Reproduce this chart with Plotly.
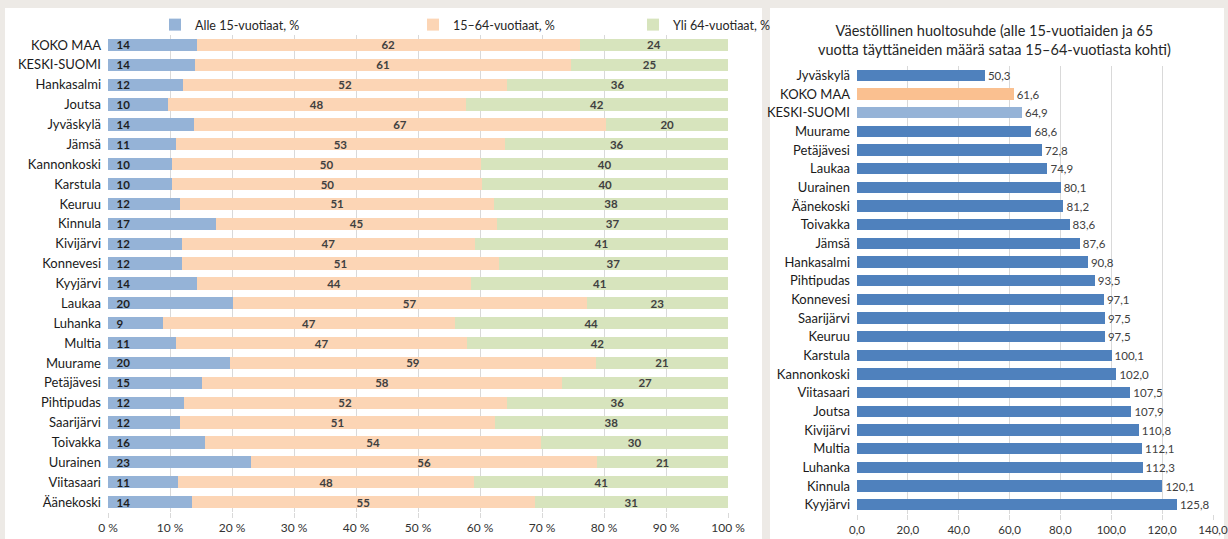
import plotly.graph_objects as go

# ---------------- data: left chart (age structure, %) ----------------
areas = ["KOKO MAA", "KESKI-SUOMI", "Hankasalmi", "Joutsa", "Jyväskylä", "Jämsä",
         "Kannonkoski", "Karstula", "Keuruu", "Kinnula", "Kivijärvi", "Konnevesi",
         "Kyyjärvi", "Laukaa", "Luhanka", "Multia", "Muurame", "Petäjävesi",
         "Pihtipudas", "Saarijärvi", "Toivakka", "Uurainen", "Viitasaari", "Äänekoski"]
under15 = [14.3, 14.0, 12.1, 9.6, 13.8, 10.9, 10.3, 10.4, 11.6, 17.4, 11.9, 12.0,
           14.3, 20.1, 8.9, 11.0, 19.7, 15.1, 12.2, 11.6, 15.6, 23.1, 11.3, 13.6]
age15_64 = [61.8, 60.7, 52.3, 48.1, 66.6, 53.2, 49.9, 50.0, 50.7, 45.4, 47.3, 51.0,
            44.3, 57.1, 47.0, 46.9, 59.0, 58.2, 52.1, 50.8, 54.3, 55.8, 47.8, 55.2]
over64 = [23.9, 25.3, 35.6, 42.3, 19.6, 35.9, 39.8, 39.6, 37.7, 37.2, 40.8, 37.0,
          41.4, 22.8, 44.1, 42.1, 21.3, 26.7, 35.7, 37.6, 30.1, 21.1, 40.9, 31.2]
series_names = ["Alle 15-vuotiaat, %", "15–64-vuotiaat, %", "Yli 64-vuotiaat, %"]
pct_ticks = list(range(0, 101, 10))
pct_tick_labels = [f"{v} %" for v in pct_ticks]

# ---------------- data: right chart (dependency ratio) ----------------
dep_areas = ["Jyväskylä", "KOKO MAA", "KESKI-SUOMI", "Muurame", "Petäjävesi", "Laukaa",
             "Uurainen", "Äänekoski", "Toivakka", "Jämsä", "Hankasalmi", "Pihtipudas",
             "Konnevesi", "Saarijärvi", "Keuruu", "Karstula", "Kannonkoski", "Viitasaari",
             "Joutsa", "Kivijärvi", "Multia", "Luhanka", "Kinnula", "Kyyjärvi"]
dep_ratio = [50.3, 61.6, 64.9, 68.6, 72.8, 74.9, 80.1, 81.2, 83.6, 87.6, 90.8, 93.5,
             97.1, 97.5, 97.5, 100.1, 102.0, 107.5, 107.9, 110.8, 112.1, 112.3, 120.1, 125.8]
dep_title = "Väestöllinen huoltosuhde (alle 15-vuotiaiden ja 65<br>vuotta täyttäneiden määrä sataa 15–64-vuotiasta kohti)"

# ---------------- styling ----------------
W, H = 1228, 539
FONT = "Lato"
C_BLUE_L, C_ORANGE_L, C_GREEN_L = "#95b3d7", "#fcd5b5", "#d7e4bd"
C_DARK_BLUE, C_ORANGE, C_LIGHT_BLUE = "#4f81bd", "#fac090", "#95b3d7"
GRID = "#d9d9d9"
special = {"KOKO MAA": C_ORANGE, "KESKI-SUOMI": C_LIGHT_BLUE}
dep_colors = [special.get(a, C_DARK_BLUE) for a in dep_areas]
legend_x_px = [155, 413, 633]


def px_x(p):
    return p / W


def px_y(p):
    return 1 - p / H


fig = go.Figure()

left_vals = [under15, age15_64, over64]
left_cols = [C_BLUE_L, C_ORANGE_L, C_GREEN_L]
legend_ids = ["legend", "legend2", "legend3"]
for i, (name, vals, col) in enumerate(zip(series_names, left_vals, left_cols)):
    fig.add_trace(go.Bar(
        y=areas, x=vals, name=name, orientation="h",
        marker=dict(color=col, line=dict(width=0)),
        texttemplate="  %{x:.0f}" if i == 0 else "%{x:.0f}",
        textposition="inside",
        insidetextanchor="start" if i == 0 else "middle",
        constraintext="none", textangle=0,
        textfont=dict(family=FONT, size=11.5,
                      color="#1f1f1f" if i == 0 else "#404040",
                      weight="bold"),
        xaxis="x", yaxis="y", hoverinfo="skip",
        legend=legend_ids[i],
    ))

fig.add_trace(go.Bar(
    y=dep_areas, x=dep_ratio, orientation="h", showlegend=False,
    marker=dict(color=dep_colors, line=dict(width=0)),
    texttemplate="%{x:.1f}", textposition="outside", constraintext="none",
    cliponaxis=False, textangle=0,
    textfont=dict(family=FONT, size=11.5, color="#404040"),
    xaxis="x2", yaxis="y2", hoverinfo="skip",
))

legend_common = dict(orientation="h", xanchor="left", yanchor="middle",
                     y=px_y(25), bgcolor="rgba(0,0,0,0)",
                     font=dict(family=FONT, size=12.5, color="#262626"),
                     itemclick=False, itemdoubleclick=False,
                     itemwidth=30, tracegroupgap=0)

fig.update_layout(
    width=W, height=H,
    margin=dict(l=0, r=0, t=0, b=0),
    paper_bgcolor="#edeae6",
    plot_bgcolor="rgba(0,0,0,0)",
    separators=", ",
    barmode="stack",
    bargap=0.38,
    font=dict(family=FONT, size=12, color="#262626"),
    shapes=[
        dict(type="rect", xref="paper", yref="paper", layer="below",
             x0=px_x(5), x1=px_x(762), y0=0, y1=px_y(8),
             fillcolor="white", line=dict(width=0)),
        dict(type="rect", xref="paper", yref="paper", layer="below",
             x0=px_x(770), x1=px_x(1224), y0=0, y1=px_y(8),
             fillcolor="white", line=dict(width=0)),
    ],
    xaxis=dict(domain=[px_x(108), px_x(728)], range=[0, 100],
               tickvals=pct_ticks, ticktext=pct_tick_labels,
               showgrid=True, gridcolor=GRID, gridwidth=1,
               zeroline=False, showline=False,
               ticks="outside", ticklen=5, tickcolor=GRID,
               tickfont=dict(family=FONT, size=12, color="#333333"),
               anchor="y", automargin=False, fixedrange=True),
    yaxis=dict(domain=[px_y(512), px_y(35)], type="category",
               autorange="reversed", showgrid=False, zeroline=False,
               ticks="", ticklabelstandoff=6,
               tickfont=dict(family=FONT, size=13, color="#1a1a1a"),
               anchor="x", automargin=False, fixedrange=True),
    xaxis2=dict(domain=[px_x(857), px_x(1213)], range=[0, 140], dtick=20,
                tickformat=".1f",
                showgrid=True, gridcolor=GRID, gridwidth=1,
                zeroline=False, showline=False,
                ticks="outside", ticklen=5, tickcolor=GRID,
                tickfont=dict(family=FONT, size=11.5, color="#333333"),
                anchor="y2", automargin=False, fixedrange=True),
    yaxis2=dict(domain=[px_y(514), px_y(66)], type="category",
                autorange="reversed", showgrid=False, zeroline=False,
                ticks="", ticklabelstandoff=6,
                tickfont=dict(family=FONT, size=13, color="#1a1a1a"),
                anchor="x2", automargin=False, fixedrange=True),
    legend=dict(legend_common, x=px_x(legend_x_px[0])),
    legend2=dict(legend_common, x=px_x(legend_x_px[1])),
    legend3=dict(legend_common, x=px_x(legend_x_px[2])),
    annotations=[
        dict(text=dep_title, xref="paper", yref="paper",
             x=px_x(994), y=px_y(39.5), xanchor="center", yanchor="middle",
             showarrow=False, align="center",
             font=dict(family=FONT, size=14.5, color="#262626")),
    ],
)

fig.write_html("out.html",
               config={"displayModeBar": False, "staticPlot": False},
               post_script="document.body.style.margin='0';document.body.style.overflow='hidden';")
